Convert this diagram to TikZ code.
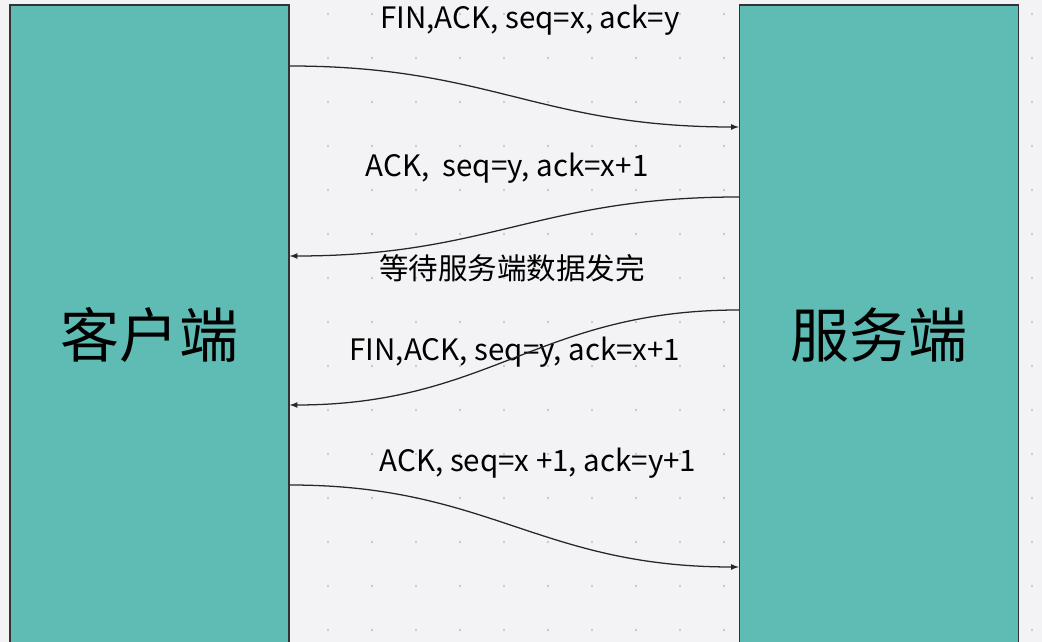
\documentclass[tikz,border=0pt]{standalone}
\usepackage{fontspec}
\setmainfont{Noto Sans CJK SC}
\usetikzlibrary{positioning}
\definecolor{bgcol}{HTML}{F3F3F5}
\definecolor{boxcol}{HTML}{5FBCB5}
\definecolor{gridcol}{HTML}{BBBBC4}
\begin{document}
\begin{tikzpicture}[x=0.025cm, y=-0.025cm]
  \tikzset{side/.style={draw=black!80, line width=1pt, fill=boxcol, minimum width=279*0.025cm, minimum height=650*0.025cm, inner sep=0pt, font=\fontsize{42}{50}\selectfont},
    msg/.style={font=\fontsize{21}{25}\selectfont, inner sep=0pt},
    flow/.style={draw=black!85, line width=0.9pt, -latex}}
  \fill[bgcol] (0,0) rectangle (1042,642);
  \useasboundingbox (0,0) rectangle (1042,642);
  % dot grid
  \foreach \i in {0,...,23} \foreach \j in {0,...,14}
    \fill[gridcol] (\i*44+20,\j*44+14) circle (0.8pt);

  \node [side] (client) at (149.5,330) {};
  \node [side] (server) at (879,330) {};
  \node [font=\fontsize{42}{50}\selectfont] at (149.5,335) {客户端};
  \node [font=\fontsize{42}{50}\selectfont] at (879,335) {服务端};

  \node [msg] (m1) at (530,20) {FIN,ACK, seq=x, ack=y};
  \node [msg] (m2) at (507,168) {ACK,\ \ seq=y, ack=x+1};
  \node [msg] (w) at (512,268) {等待服务端数据发完};
  \node [msg] (m3) at (515,352) {FIN,ACK, seq=y, ack=x+1};
  \node [msg] (m4) at (538,463) {ACK, seq=x +1, ack=y+1};

  \coordinate (a1) at (client.east |- 0,66);
  \coordinate (b1) at (server.west |- 0,127);
  \coordinate (a2) at (server.west |- 0,197);
  \coordinate (b2) at (client.east |- 0,256);
  \coordinate (a3) at (server.west |- 0,310);
  \coordinate (b3) at (client.east |- 0,405);
  \coordinate (a4) at (client.east |- 0,485);
  \coordinate (b4) at (server.west |- 0,567);

  \draw [flow] (a1) .. controls +(200,0) and +(-200,0) .. (b1);
  \draw [flow] (a2) .. controls +(-200,0) and +(200,0) .. (b2);
  \draw [flow] (a3) .. controls +(-200,0) and +(200,0) .. (b3);
  \draw [flow] (a4) .. controls +(200,0) and +(-200,0) .. (b4);
\end{tikzpicture}
\end{document}
